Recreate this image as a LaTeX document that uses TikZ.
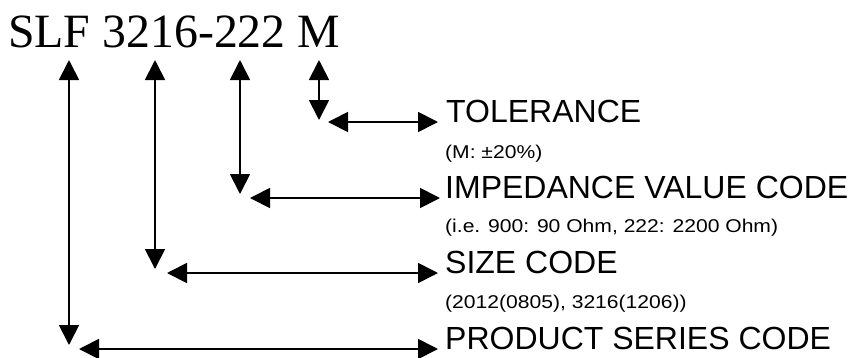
\documentclass[tikz,border=0pt]{standalone}
\usepackage{fontspec}
\setmainfont{Liberation Sans}
\newfontfamily\titlefont{Liberation Serif}
\newfontfamily\notefont[FakeStretch=1.14]{Liberation Sans}
\usetikzlibrary{arrows.meta}
\begin{document}
\begin{tikzpicture}[x=1pt,y=-1pt,
	>={Triangle[length=20pt,width=20pt]},
	lead/.style={<->,line width=1.8pt},
	biglabel/.style={anchor=base west,inner sep=0pt,font=\fontsize{32}{34}\selectfont},
	notelabel/.style={anchor=base west,inner sep=0pt,font=\notefont\fontsize{18.5}{20}\selectfont}]
				\useasboundingbox (0,0) rectangle (855,357);
				\node[anchor=base west,inner sep=0pt] (code) at (8,47) {\titlefont\fontsize{47.8}{50}\selectfont SLF 3216-222 M};
				\node[biglabel] (tol) at (446,122) {TOLERANCE};
				\node[notelabel] (tolnote) at (445,158) {(M: ±20\%)};
				\node[biglabel] (imp) at (445,198) {IMPEDANCE VALUE CODE};
				\node[notelabel] (impnote) at (445,232) {(i.e. 900: 90 Ohm, 222: 2200 Ohm)};
				\node[biglabel] (size) at (445,273) {SIZE CODE};
				\node[notelabel] (sizenote) at (445,308) {(2012(0805), 3216(1206))};
				\node[biglabel] (series) at (445,349) {PRODUCT SERIES CODE};
				\coordinate (s1) at (69,60);
				\coordinate (s2) at (155,60);
				\coordinate (s3) at (240,60);
				\coordinate (s4) at (319,60);
				\coordinate (e1) at (69,345);
				\coordinate (e2) at (155,269);
				\coordinate (e3) at (240,194);
				\coordinate (e4) at (319,120);
				\coordinate (h1) at (79,349);
				\coordinate (h2) at (167,273);
				\coordinate (h3) at (250,198);
				\coordinate (h4) at (328,122);
				\draw[lead] (s1) -- (e1);
				\draw[lead] (s2) -- (e2);
				\draw[lead] (s3) -- (e3);
				\draw[lead] (s4) -- (e4);
				\draw[lead] (h1) -- ([xshift=-7pt]series.base west);
				\draw[lead] (h2) -- ([xshift=-7pt]size.base west);
				\draw[lead] (h3) -- ([xshift=-5pt]imp.base west);
				\draw[lead] (h4) -- ([xshift=-8pt]tol.base west);
			\end{tikzpicture}
\end{document}
